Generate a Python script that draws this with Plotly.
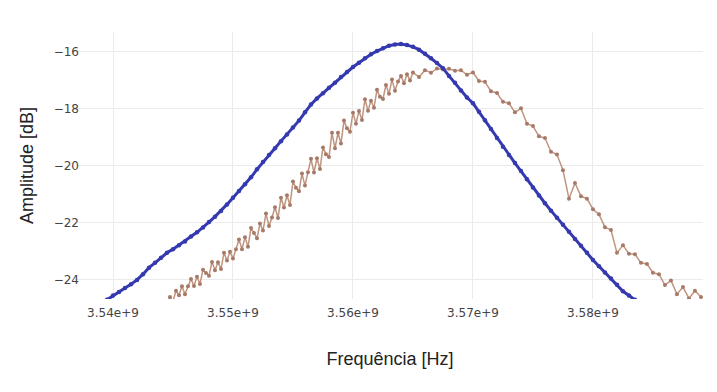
import plotly.graph_objects as go

# Frequency offsets (MHz) from 3540 MHz
blue_off_mhz = [-0.5, 0.0, 0.5, 1.0, 1.5, 2.0, 2.5, 3.0, 3.5, 4.0, 4.5, 5.0, 5.5, 6.0, 6.5, 7.0, 7.5, 8.0, 8.5, 9.0,
                9.5, 10.0, 10.5, 11.0, 11.5, 12.0, 12.5, 13.0, 13.5, 14.0, 14.5, 15.0, 15.5, 16.0, 16.5, 17.0, 17.5,
                18.0, 18.5, 19.0, 19.5, 20.0, 20.5, 21.0, 21.5, 22.0, 22.5, 23.0, 23.5, 24.0, 24.5, 25.0, 25.5, 26.0,
                26.5, 27.0, 27.5, 28.0, 28.5, 29.0, 29.5, 30.0, 30.5, 31.0, 31.5, 32.0, 32.5, 33.0, 33.5, 34.0, 34.5,
                35.0, 35.5, 36.0, 36.5, 37.0, 37.5, 38.0, 38.5, 39.0, 39.5, 40.0, 40.5, 41.0, 41.5, 42.0, 42.5, 43.0, 43.5]
blue_db = [-24.70, -24.55, -24.42, -24.28, -24.15, -24.00, -23.80, -23.57, -23.40, -23.22, -23.05, -22.92, -22.78,
           -22.65, -22.48, -22.33, -22.16, -21.97, -21.78, -21.58, -21.35, -21.12, -20.88, -20.64, -20.40, -20.12,
           -19.86, -19.62, -19.38, -19.13, -18.90, -18.65, -18.41, -18.12, -17.84, -17.63, -17.45, -17.26, -17.08,
           -16.88, -16.70, -16.53, -16.38, -16.22, -16.08, -15.97, -15.87, -15.78, -15.74, -15.72, -15.76, -15.82,
           -15.92, -16.06, -16.22, -16.39, -16.57, -16.84, -17.08, -17.35, -17.60, -17.80, -18.10, -18.40, -18.70,
           -19.02, -19.33, -19.62, -19.90, -20.18, -20.47, -20.76, -21.04, -21.31, -21.57, -21.82, -22.06, -22.31,
           -22.56, -22.80, -23.05, -23.30, -23.52, -23.74, -23.95, -24.17, -24.40, -24.55, -24.70]

brown_off_mhz = [4.5, 4.75, 5.0, 5.25, 5.5, 5.75, 6.0, 6.25, 6.5, 6.75, 7.0, 7.25, 7.5, 7.75, 8.0, 8.25, 8.5, 8.75,
                 9.0, 9.25, 9.5, 9.75, 10.0, 10.25, 10.5, 10.75, 11.0, 11.25, 11.5, 11.75, 12.0, 12.25, 12.5, 12.75,
                 13.0, 13.25, 13.5, 13.75, 14.0, 14.25, 14.5, 14.75, 15.0, 15.25, 15.5, 15.75, 16.0, 16.25, 16.5,
                 16.75, 17.0, 17.25, 17.5, 17.75, 18.0, 18.25, 18.5, 18.75, 19.0, 19.25, 19.5, 19.75, 20.0, 20.25,
                 20.5, 20.75, 21.0, 21.25, 21.5, 21.75, 22.0, 22.25, 22.5, 22.75, 23.0, 23.25, 23.5, 23.75, 24.0,
                 24.25, 24.5, 24.75,
                 25.0, 25.5, 26.0, 26.5, 27.0, 27.5, 28.0, 28.5, 29.0,
                 29.5, 30.0, 30.5, 31.0, 31.5, 32.0, 32.5, 33.0, 33.5, 34.0, 34.5, 35.0, 35.5, 36.0, 36.5, 37.0,
                 37.5, 38.0, 38.5, 39.0, 39.5, 40.0, 40.5, 41.0, 41.5, 42.0, 42.5, 43.0, 43.5, 44.0, 44.5, 45.0,
                 45.5, 46.0, 46.5, 47.0, 47.5, 48.0, 48.5, 49.0]
brown_db = [-24.78, -24.60, -24.75, -24.38, -24.54, -24.22, -24.50, -24.22, -23.97, -24.21, -23.89, -24.14, -23.64,
            -23.76, -23.85, -23.37, -23.66, -23.38, -23.62, -23.05, -23.32, -23.01, -23.25, -22.92, -22.58, -22.92,
            -22.50, -22.84, -22.18, -22.35, -22.54, -22.02, -22.27, -21.67, -22.11, -21.81, -21.45, -21.83, -21.12,
            -21.46, -21.03, -21.37, -20.55, -20.77, -20.89, -20.27, -20.69, -20.22, -19.75, -20.23, -19.73, -20.11,
            -19.35, -19.59, -19.69, -18.84, -19.38, -18.84, -19.21, -18.41, -18.68, -18.80, -18.13, -18.52, -18.07,
            -18.39, -17.66, -18.06, -17.71, -17.96, -17.33, -17.57, -17.65, -17.16, -17.47, -16.97, -17.36, -17.04,
            -16.84, -17.10, -16.78, -17.00,
            -16.72, -16.88, -16.64, -16.73, -16.58, -16.62, -16.59, -16.66, -16.64,
            -16.80, -16.72, -17.02, -17.05, -17.38, -17.44, -17.75, -17.80, -18.12, -17.98, -18.52, -18.60, -18.96,
            -19.02, -19.50, -19.60, -20.15, -21.15, -20.60, -21.06, -21.15, -21.52, -21.70, -22.15, -22.25, -23.05,
            -22.78, -23.08, -23.10, -23.40, -23.44, -23.75, -23.80, -24.18, -24.02, -24.50, -24.25, -24.65, -24.38,
            -24.60]

x_tick_vals = [3.54e9, 3.55e9, 3.56e9, 3.57e9, 3.58e9]
x_tick_text = ["3.54e+9", "3.55e+9", "3.56e+9", "3.57e+9", "3.58e+9"]
y_tick_vals = [-24, -22, -20, -18, -16]

base_hz = 3.54e9
blue_x = [base_hz + o * 1e6 for o in blue_off_mhz]
brown_x = [base_hz + o * 1e6 for o in brown_off_mhz]

fig = go.Figure()
fig.add_trace(go.Scatter(x=brown_x, y=brown_db, mode="lines+markers",
                         line=dict(color="#c0957f", width=1.5),
                         marker=dict(color="#a77a68", size=4)))
fig.add_trace(go.Scatter(x=blue_x, y=blue_db, mode="lines+markers",
                         line=dict(color="#3539b0", width=3),
                         marker=dict(color="#3539b0", size=4.5)))

fig.update_layout(
    width=709, height=384,
    margin=dict(l=69, r=14, t=24, b=93),
    paper_bgcolor="white", plot_bgcolor="white",
    showlegend=False,
    xaxis=dict(range=[3.53700e9, 3.58917e9], tickvals=x_tick_vals, ticktext=x_tick_text,
               ticklabelstandoff=5,
               showgrid=True, gridcolor="#ebebeb", zeroline=False, showline=False,
               tickfont=dict(family="Verdana, DejaVu Sans", size=12, color="#444"),
               title=dict(text="Frequência [Hz]", standoff=33,
                          font=dict(family="Arial, Liberation Sans", size=18, color="#222"))),
    yaxis=dict(range=[-24.67, -15.30], tickvals=y_tick_vals, ticklabelstandoff=-3,
               showgrid=True, gridcolor="#ebebeb", zeroline=False, showline=False,
               tickfont=dict(family="Verdana, DejaVu Sans", size=12, color="#444"),
               title=dict(text="Amplitude [dB]",
                          font=dict(family="Arial, Liberation Sans", size=18, color="#222"))),
)

fig.write_html("out.html")
